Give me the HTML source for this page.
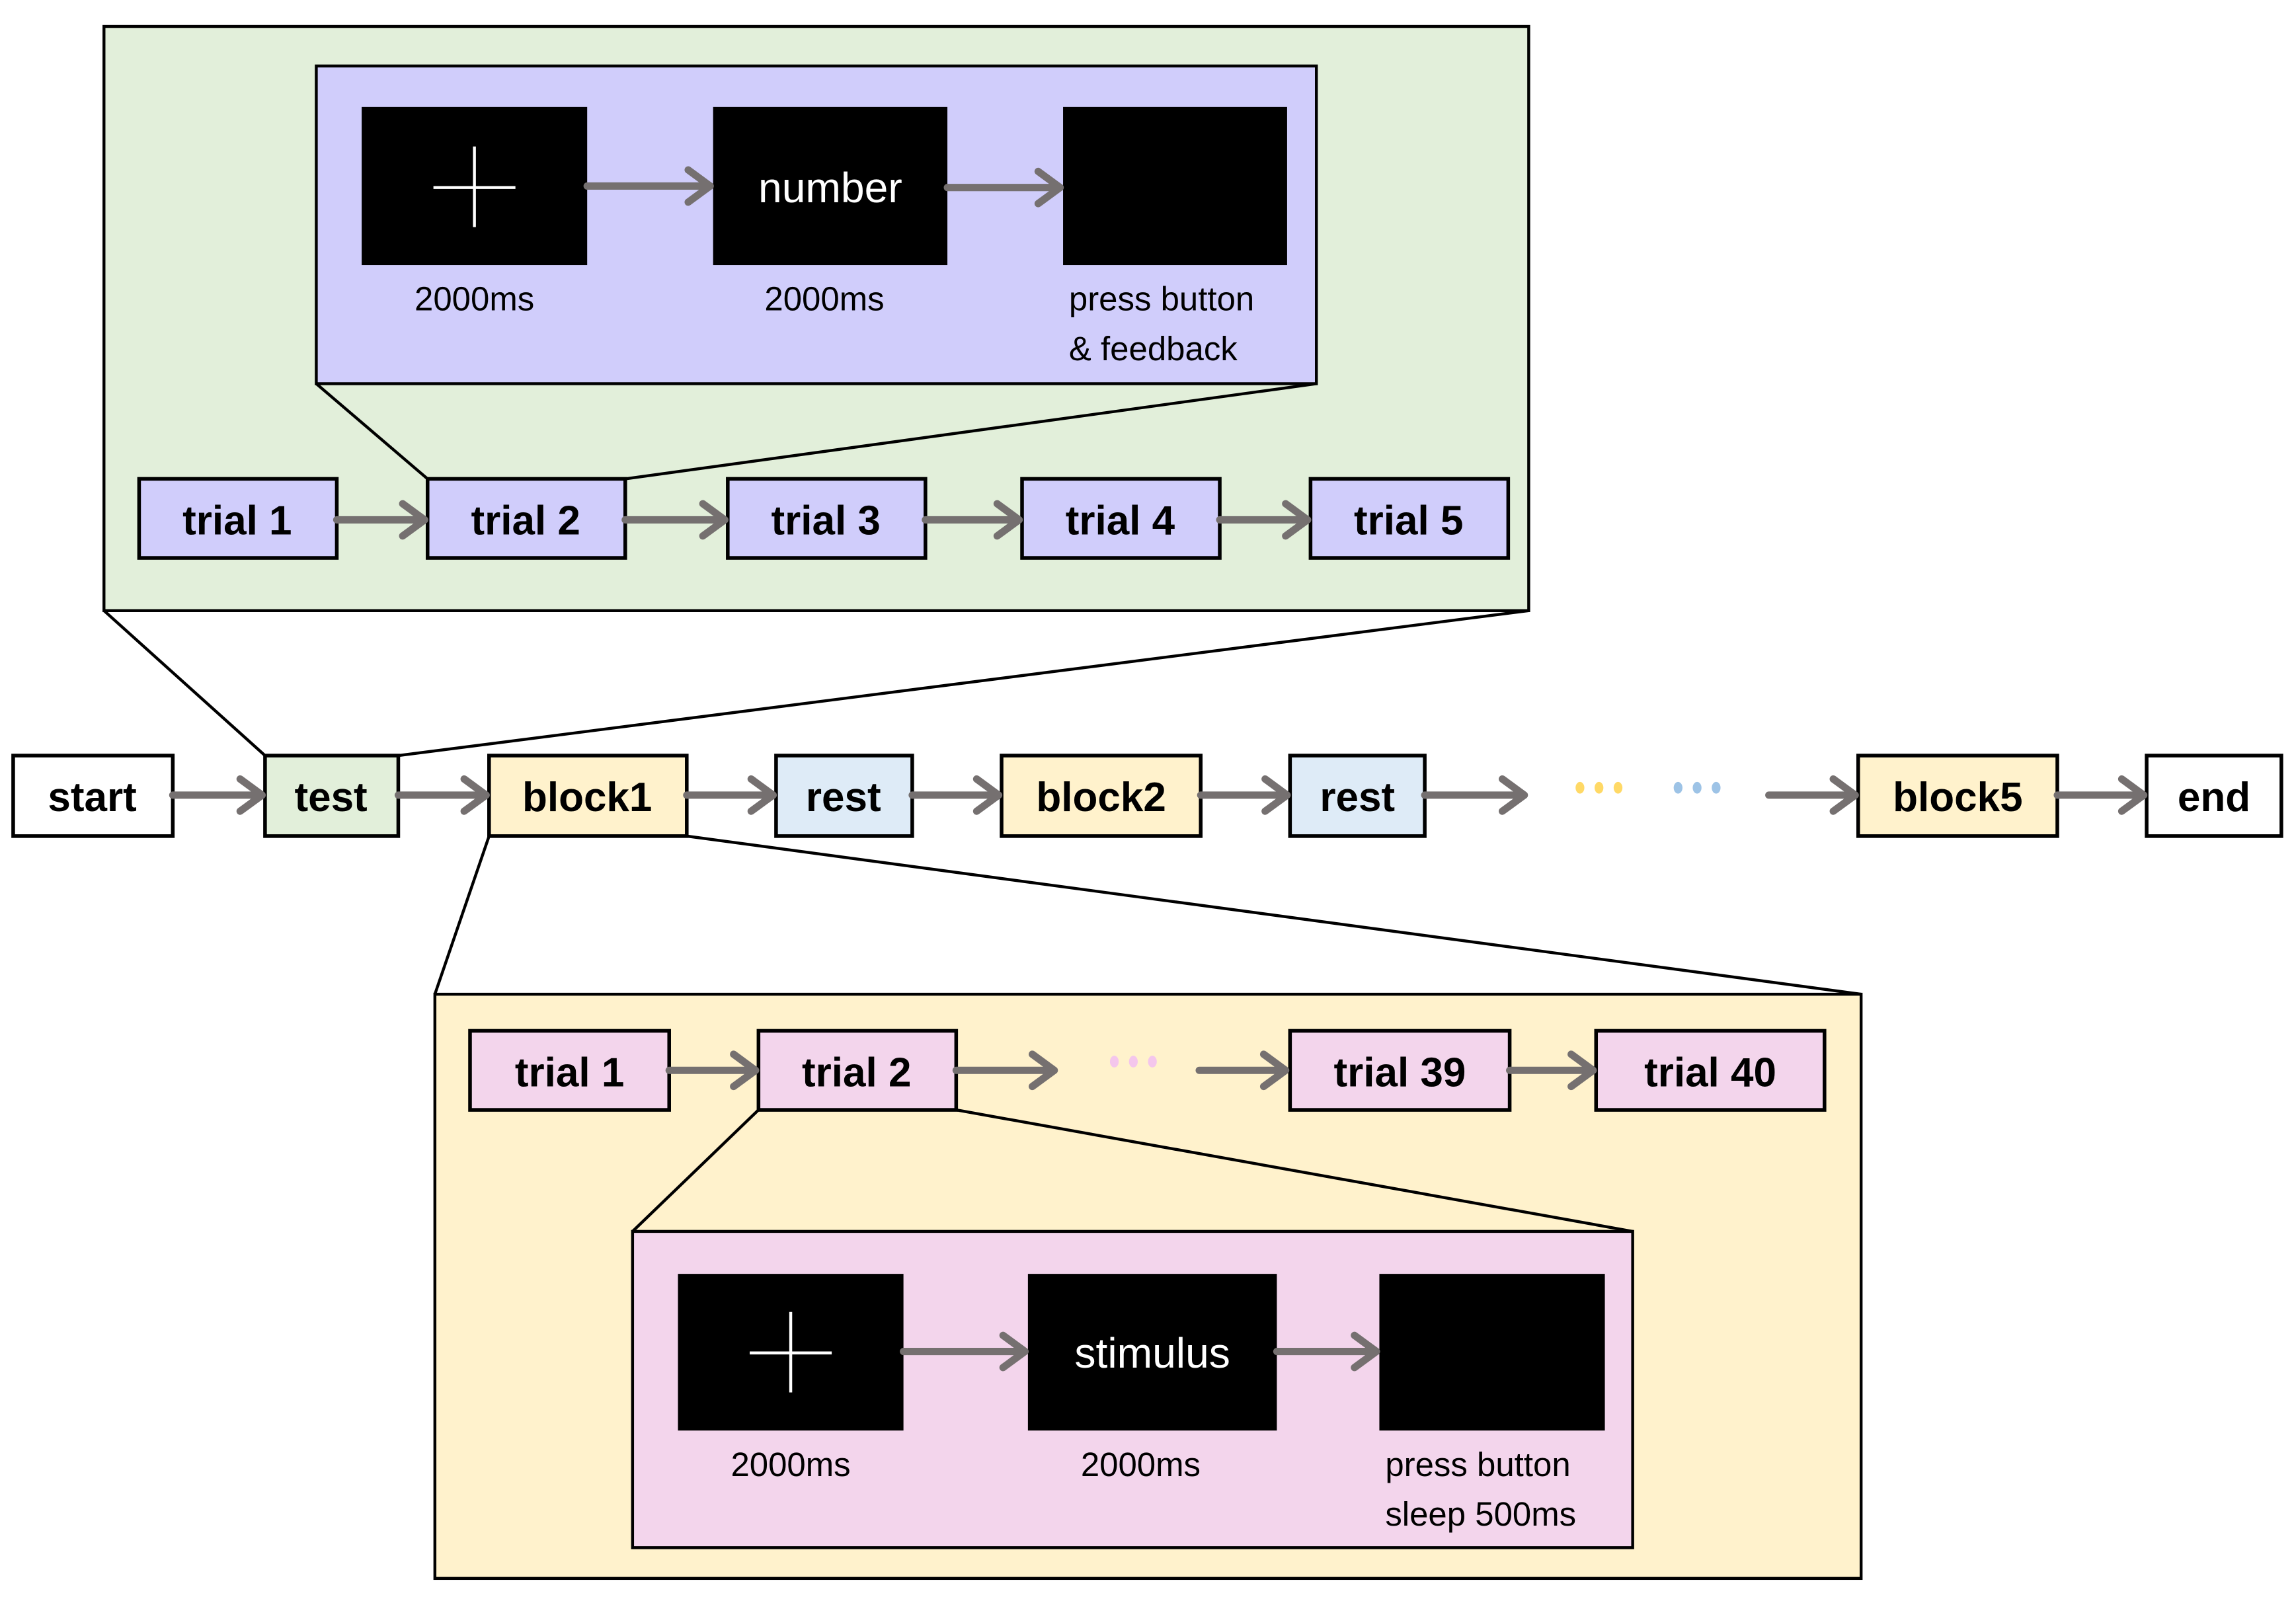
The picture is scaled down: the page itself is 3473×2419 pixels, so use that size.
<!DOCTYPE html>
<html><head><meta charset="utf-8"><style>
html,body{margin:0;padding:0;background:#fff;}
svg{display:block;}
.b{font-family:"Liberation Sans",sans-serif;font-weight:bold;font-size:28px;text-anchor:middle;}
.s{font-family:"Liberation Sans",sans-serif;font-size:23px;}
.w{font-family:"Liberation Sans",sans-serif;font-size:29px;fill:#fff;text-anchor:middle;}
</style></head><body>
<svg width="3473" height="2419" viewBox="0 0 1568 1092" xmlns="http://www.w3.org/2000/svg">
<g stroke="#000" stroke-width="2" fill="none">
<rect x="71" y="18" width="973" height="399" fill="#e2efda"/>
<rect x="216" y="45" width="683" height="217" fill="#d0cdfb"/>
<line x1="216" y1="262" x2="292" y2="327"/>
<line x1="899" y1="262" x2="427" y2="327"/>
<line x1="71" y1="417" x2="181" y2="516"/>
<line x1="1044" y1="417" x2="272" y2="516"/>
<rect x="297" y="679" width="974" height="399" fill="#fff2cc"/>
<line x1="334" y1="571" x2="297" y2="679"/>
<line x1="469" y1="571" x2="1271" y2="679"/>
<rect x="432" y="841" width="683" height="216" fill="#f3d5ec"/>
<line x1="518" y1="758" x2="432" y2="841"/>
<line x1="653" y1="758" x2="1115" y2="841"/>
</g>
<g fill="#000">
<rect x="247" y="73" width="154" height="108"/>
<rect x="487" y="73" width="160" height="108"/>
<rect x="726" y="73" width="153" height="108"/>
<rect x="463" y="870" width="154" height="107"/>
<rect x="702" y="870" width="170" height="107"/>
<rect x="942" y="870" width="154" height="107"/>
</g>
<g stroke="#fff" stroke-width="2">
<line x1="296" y1="128" x2="352" y2="128"/><line x1="324" y1="100" x2="324" y2="155"/>
<line x1="512" y1="924" x2="568" y2="924"/><line x1="540" y1="896" x2="540" y2="951"/>
</g>
<text class="w" x="567" y="138">number</text>
<text class="w" x="787" y="934">stimulus</text>
<g class="s">
<text x="324" y="212" text-anchor="middle">2000ms</text>
<text x="563" y="212" text-anchor="middle">2000ms</text>
<text x="730" y="212">press button</text>
<text x="730" y="246">&amp; feedback</text>
<text x="540" y="1008" text-anchor="middle">2000ms</text>
<text x="779" y="1008" text-anchor="middle">2000ms</text>
<text x="946" y="1008">press button</text>
<text x="946" y="1042">sleep 500ms</text>
</g>
<g stroke="#000" stroke-width="2.5">
<rect x="95" y="327" width="135" height="54" fill="#d0cdfb"/>
<rect x="292" y="327" width="135" height="54" fill="#d0cdfb"/>
<rect x="497" y="327" width="135" height="54" fill="#d0cdfb"/>
<rect x="698" y="327" width="135" height="54" fill="#d0cdfb"/>
<rect x="895" y="327" width="135" height="54" fill="#d0cdfb"/>
<rect x="9" y="516" width="109" height="55" fill="#fff"/>
<rect x="181" y="516" width="91" height="55" fill="#e2efda"/>
<rect x="334" y="516" width="135" height="55" fill="#fff2cc"/>
<rect x="530" y="516" width="93" height="55" fill="#deebf7"/>
<rect x="684" y="516" width="136" height="55" fill="#fff2cc"/>
<rect x="881" y="516" width="92" height="55" fill="#deebf7"/>
<rect x="1269" y="516" width="136" height="55" fill="#fff2cc"/>
<rect x="1466" y="516" width="92" height="55" fill="#fff"/>
<rect x="321" y="704" width="136" height="54" fill="#f3d5ec"/>
<rect x="518" y="704" width="135" height="54" fill="#f3d5ec"/>
<rect x="881" y="704" width="150" height="54" fill="#f3d5ec"/>
<rect x="1090" y="704" width="156" height="54" fill="#f3d5ec"/>
</g>
<g class="b">
<text x="162" y="365">trial 1</text>
<text x="359" y="365">trial 2</text>
<text x="564" y="365">trial 3</text>
<text x="765" y="365">trial 4</text>
<text x="962" y="365">trial 5</text>
<text x="63" y="554">start</text>
<text x="226" y="554">test</text>
<text x="401" y="554">block1</text>
<text x="576" y="554">rest</text>
<text x="752" y="554">block2</text>
<text x="927" y="554">rest</text>
<text x="1337" y="554">block5</text>
<text x="1512" y="554">end</text>
<text x="389" y="742">trial 1</text>
<text x="585" y="742">trial 2</text>
<text x="956" y="742">trial 39</text>
<text x="1168" y="742">trial 40</text>
</g>
<g stroke="#757070" stroke-width="5" fill="none" stroke-linecap="round" stroke-linejoin="round">
<path d="M401 127H485M470 116L485 127L470 138"/>
<path d="M647 128H724M709 117L724 128L709 139"/>
<path d="M230 355H290M275 344L290 355L275 366"/>
<path d="M427 355H495M480 344L495 355L480 366"/>
<path d="M632 355H696M681 344L696 355L681 366"/>
<path d="M833 355H893M878 344L893 355L878 366"/>
<path d="M118 543H179M164 532L179 543L164 554"/>
<path d="M272 543H332M317 532L332 543L317 554"/>
<path d="M469 543H528M513 532L528 543L513 554"/>
<path d="M623 543H682M667 532L682 543L667 554"/>
<path d="M820 543H879M864 532L879 543L864 554"/>
<path d="M973 543H1041M1026 532L1041 543L1026 554"/>
<path d="M1208 543H1267M1252 532L1267 543L1252 554"/>
<path d="M1405 543H1464M1449 532L1464 543L1449 554"/>
<path d="M457 731H516M501 720L516 731L501 742"/>
<path d="M653 731H720M705 720L720 731L705 742"/>
<path d="M819 731H878M863 720L878 731L863 742"/>
<path d="M1031 731H1088M1073 720L1088 731L1073 742"/>
<path d="M617 923H700M685 912L700 923L685 934"/>
<path d="M872 923H940M925 912L940 923L925 934"/>
</g>
<g>
<ellipse cx="1079" cy="538" rx="3" ry="4" fill="#ffd966"/><ellipse cx="1092" cy="538" rx="3" ry="4" fill="#ffd966"/><ellipse cx="1105" cy="538" rx="3" ry="4" fill="#ffd966"/>
<ellipse cx="1146" cy="538" rx="3" ry="4" fill="#9dc3e6"/><ellipse cx="1159" cy="538" rx="3" ry="4" fill="#9dc3e6"/><ellipse cx="1172" cy="538" rx="3" ry="4" fill="#9dc3e6"/>
<ellipse cx="761" cy="725" rx="3" ry="4" fill="#f4c6ec"/><ellipse cx="774" cy="725" rx="3" ry="4" fill="#f4c6ec"/><ellipse cx="787" cy="725" rx="3" ry="4" fill="#f4c6ec"/>
</g>
</svg>
</body></html>
